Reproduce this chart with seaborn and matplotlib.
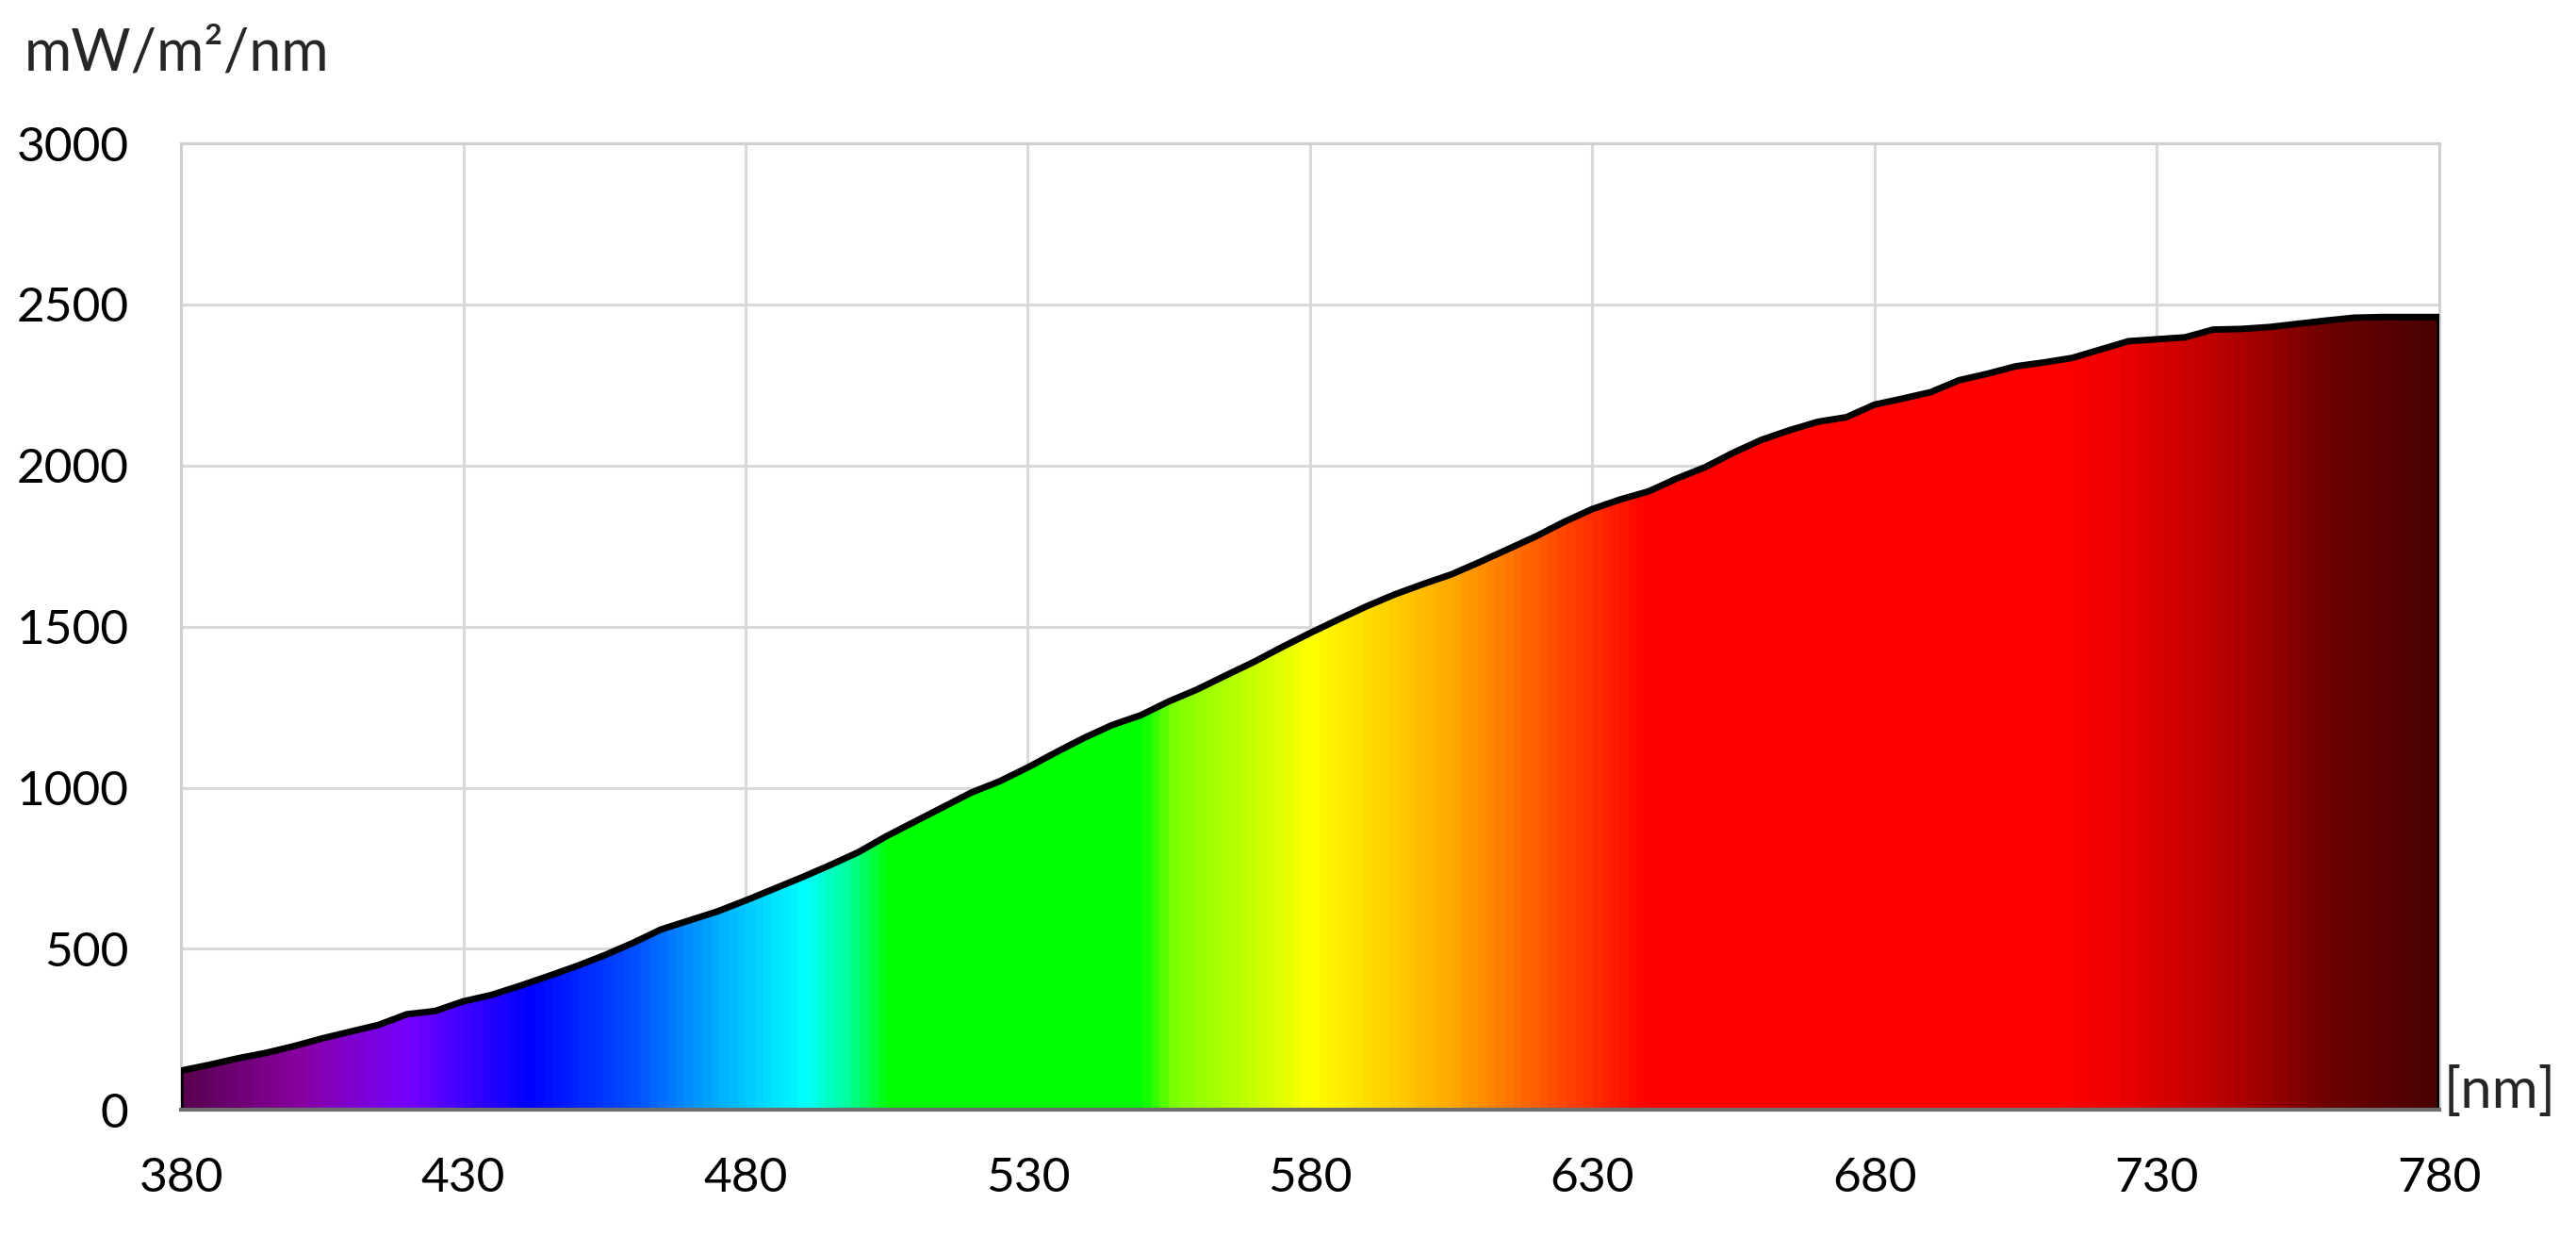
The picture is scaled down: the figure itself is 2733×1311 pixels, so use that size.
import numpy as np
import matplotlib.pyplot as plt
import seaborn as sns
from matplotlib.colors import LinearSegmentedColormap, Normalize

# spectral irradiance (5 nm steps)
wavelength = list(range(380, 781, 5))
irradiance = [
    122, 140, 160, 177, 198, 222, 243, 264, 297, 307,
    337, 357, 385, 415, 446, 480, 518, 560, 588, 616,
    650, 686, 722, 760, 800, 850, 895, 940, 985, 1020,
    1063, 1110, 1155, 1195, 1225, 1268, 1305, 1348, 1390, 1436,
    1480, 1522, 1563, 1600, 1632, 1662, 1700, 1740, 1780, 1825,
    1865, 1895, 1920, 1960, 1995, 2040, 2080, 2110, 2136, 2150,
    2189, 2208, 2228, 2265, 2285, 2308, 2320, 2334, 2360, 2386,
    2392, 2398, 2422, 2424, 2430, 2440, 2450, 2459, 2461, 2461,
    2461,
]

# spectrum colours under the curve
stop_nm = [380, 400, 420, 441, 460, 475, 490, 498, 505, 550, 556, 570, 580,
           594, 606, 623, 640, 713, 723, 740, 749, 760, 780]
stop_hex = ['#5a0050', '#8800a0', '#7300ff', '#0000ff', '#0050ff', '#00b0ff',
            '#00ffff', '#00ff99', '#00ff00', '#00ff00', '#80ff00', '#c8ff00',
            '#ffff00', '#ffd000', '#ffa500', '#ff5000', '#ff0000', '#ff0000',
            '#ee0000', '#c00000', '#a00000', '#700000', '#4a0000']

x_ticks = [380, 430, 480, 530, 580, 630, 680, 730, 780]
y_ticks = [0, 500, 1000, 1500, 2000, 2500, 3000]

sns.set_theme(style="whitegrid")
plt.rcParams['font.family'] = ['Lato', 'DejaVu Sans']

fig = plt.figure(figsize=(27.33, 13.11), dpi=100)
ax = fig.add_axes([0.0703, 0.102, 0.8765, 0.782])

lo, hi = stop_nm[0], stop_nm[-1]
cmap = LinearSegmentedColormap.from_list(
    "spectrum", [((n - lo) / (hi - lo), c) for n, c in zip(stop_nm, stop_hex)])

# area under the curve, used as clip for the gradient
poly = ax.fill_between(wavelength, irradiance, 0, facecolor='none', edgecolor='none')
ramp = np.linspace(lo, hi, 1200).reshape(1, -1)
im = ax.imshow(ramp, extent=[lo, hi, 0, 3000], aspect='auto', cmap=cmap,
               norm=Normalize(lo, hi), interpolation='bilinear', zorder=2)
im.set_clip_path(poly.get_paths()[0], transform=ax.transData)

sns.lineplot(x=wavelength, y=irradiance, color='black', linewidth=5, ax=ax, zorder=4)
ax.vlines([wavelength[0], wavelength[-1]], 0, [irradiance[0], irradiance[-1]],
          color='black', linewidth=4, zorder=4)

ax.set_xlim(380, 780)
ax.set_ylim(0, 3000)
ax.set_xticks(x_ticks)
ax.set_yticks(y_ticks)
ax.set_xlabel('')
ax.set_ylabel('')
ax.set_axisbelow(True)
ax.grid(True, color='#d9d9d9', linewidth=2.2)
ax.tick_params(length=0, labelsize=37, colors='black')
ax.tick_params(axis='y', pad=40)
ax.tick_params(axis='x', pad=36)

for side in ['left', 'top', 'right']:
    ax.spines[side].set_color('#d0d0d0')
    ax.spines[side].set_linewidth(2.2)
ax.spines['bottom'].set_color('#6e6e6e')
ax.spines['bottom'].set_linewidth(3)
ax.spines['bottom'].set_zorder(5)

fig.text(0.0095, 0.9565, 'mW/m²/nm', fontsize=44, va='center', ha='left')
ax.text(1.002, 0.019, '[nm]', transform=ax.transAxes, fontsize=43,
        va='center', ha='left')

fig.savefig('out.png', dpi=100)
